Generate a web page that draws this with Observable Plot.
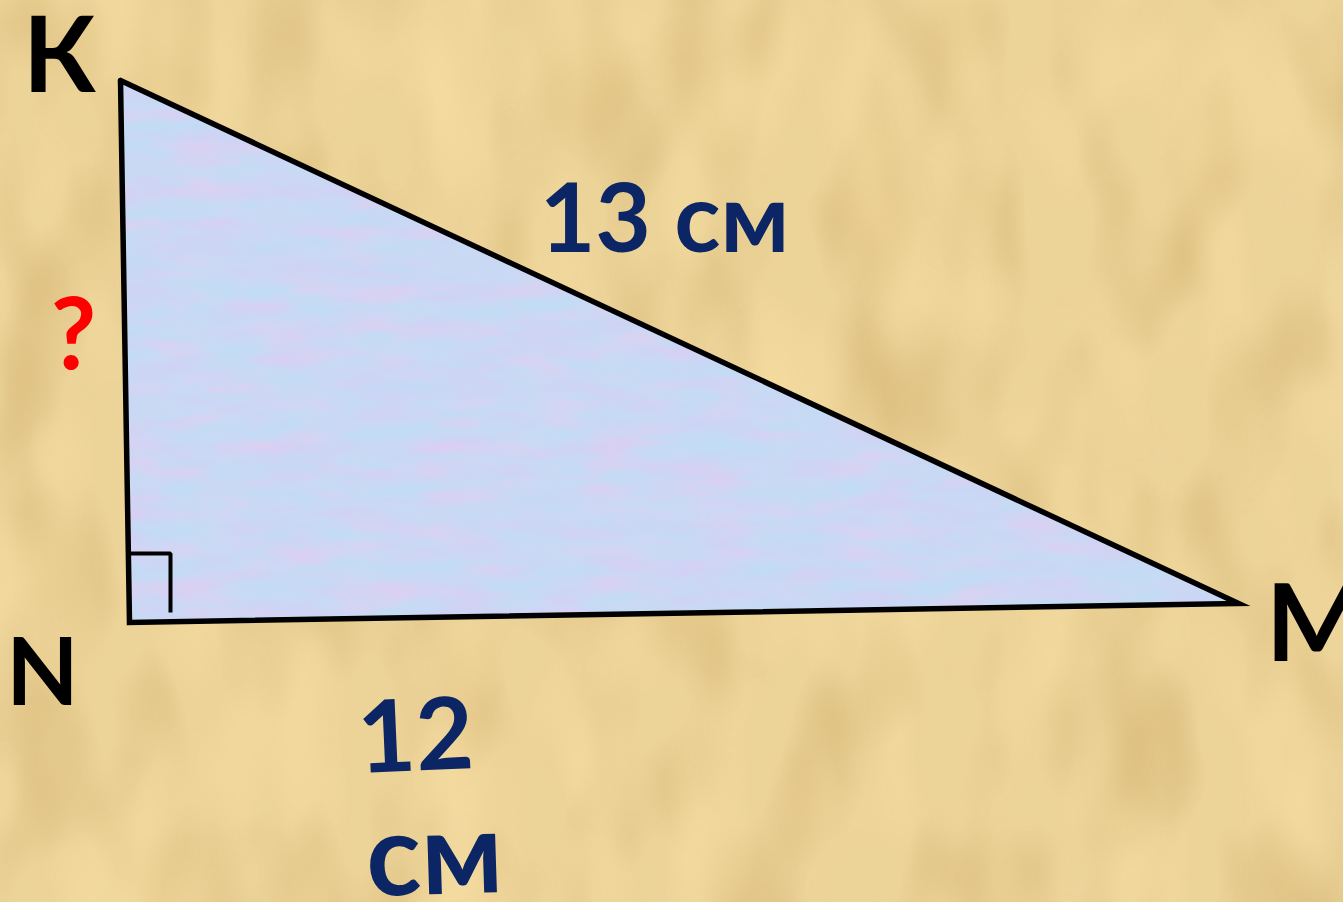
<!DOCTYPE html>
<html>
<head>
<meta charset="utf-8">
<script src="https://cdn.jsdelivr.net/npm/d3@7"></script>
<script src="https://cdn.jsdelivr.net/npm/@observablehq/plot@0.6"></script>
<style>
  html, body { margin: 0; padding: 0; background: #ecd398; overflow: hidden; }
  #chart svg { display: block; }
</style>
</head>
<body>
<div id="chart"></div>
<script>
// ---- data ----
const vertexNames = ["K", "N", "M"];
const vertexX = [120, 129, 1238];
const vertexY = [80, 622, 603];

// right-angle marker at N
const markerX = [129, 170, 170];
const markerY = [553, 553, 612];

// labels
const labelText   = ["К", "N", "M", "?", "13 см", "12", "см"];
const labelX      = [59, 42, 1316, 73, 664, 415, 434];
const labelY      = [58, 674, 626, 337, 221, 738, 857];
const labelSize   = [105, 94, 107, 99, 96, 100, 114];
const labelColor  = ["#000000", "#000000", "#000000", "#ff0000", "#0b2565", "#0b2565", "#0b2565"];
const labelRotate = [0, 0, 0, 0, 0, -2.5, -1.8];

const triangleFill = "#c9d9f4";

// ---- tables built from arrays ----
const polygon = [0, 1, 2, 0].map(i => ({name: vertexNames[i], x: vertexX[i], y: vertexY[i]}));
const marker = markerX.map((x, i) => ({x, y: markerY[i]}));
const labels = labelText.map((t, i) => ({
  text: t, x: labelX[i], y: labelY[i], size: labelSize[i], color: labelColor[i], rotate: labelRotate[i]
}));

const W = 1343, H = 902;

const textMark = (color) => Plot.text(labels.filter(d => d.color === color), {
  x: "x", y: "y", text: "text", fill: color,
  fontSize: d => d.size, rotate: "rotate",
  fontWeight: 700, textAnchor: "middle", lineAnchor: "middle"
});

const svg = Plot.plot({
  width: W,
  height: H,
  margin: 0,
  x: {domain: [0, W], range: [0, W], axis: null},
  y: {domain: [0, H], range: [0, H], axis: null},
  style: {background: "#ecd398", fontFamily: "Lato, 'Open Sans', sans-serif"},
  marks: [
    // triangle body
    Plot.line(polygon, {x: "x", y: "y", fill: triangleFill, stroke: "none"}),
    // outline
    Plot.line(polygon, {x: "x", y: "y", stroke: "black", strokeWidth: 5.5, strokeLinejoin: "miter", strokeMiterlimit: 20}),
    // right-angle marker
    Plot.line(marker, {x: "x", y: "y", stroke: "black", strokeWidth: 4, strokeLinejoin: "miter", strokeLinecap: "butt"}),
    textMark("#000000"),
    textMark("#ff0000"),
    textMark("#0b2565")
  ]
});

// ---- styling / textures ----
const root = d3.select(svg);
root.insert("defs", ":first-child").html(`
  <filter id="parch" x="0" y="0" width="1" height="1" color-interpolation-filters="sRGB">
    <feTurbulence type="fractalNoise" baseFrequency="0.012 0.006" numOctaves="2" seed="7" result="n"/>
    <feColorMatrix in="n" type="matrix" values="0 0 0 0 0.80  0 0 0 0 0.66  0 0 0 0 0.40  1.25 0 0 0 -0.57" result="dk"/>
    <feColorMatrix in="n" type="matrix" values="0 0 0 0 0.98  0 0 0 0 0.88  0 0 0 0 0.65  0 1.3 0 0 -0.56" result="lt"/>
    <feMerge><feMergeNode in="dk"/><feMergeNode in="lt"/></feMerge>
  </filter>
  <filter id="mottle" color-interpolation-filters="sRGB">
    <feTurbulence type="fractalNoise" baseFrequency="0.012 0.05" numOctaves="3" seed="3" result="n"/>
    <feColorMatrix in="n" type="matrix" values="0 0 0 0 0.84  0 0 0 0 0.80  0 0 0 0 0.96  1.6 0 0 0 -0.66" result="lav"/>
    <feColorMatrix in="n" type="matrix" values="0 0 0 0 0.74  0 0 0 0 0.87  0 0 0 0 0.96  0 1.6 0 0 -0.66" result="cy"/>
    <feColorMatrix in="n" type="matrix" values="0 0 0 0 0.90  0 0 0 0 0.80  0 0 0 0 0.94  0 0 1.6 0 -0.78" result="pk"/>
    <feMerge result="m"><feMergeNode in="SourceGraphic"/><feMergeNode in="lav"/><feMergeNode in="cy"/><feMergeNode in="pk"/></feMerge>
    <feComposite in="m" in2="SourceGraphic" operator="in"/>
  </filter>
`);
// paper layer under all marks
root.insert("rect", "defs + *")
  .attr("x", 0).attr("y", 0).attr("width", W).attr("height", H)
  .attr("fill", "#ecd398").attr("filter", "url(#parch)");

// textured copy of the triangle body on top of it
const tri = root.select(`g[fill="${triangleFill}"]`);
if (!tri.empty()) {
  const copy = tri.node().cloneNode(true);
  copy.setAttribute("filter", "url(#mottle)");
  tri.node().after(copy);
}

document.getElementById("chart").appendChild(svg);
</script>
</body>
</html>
